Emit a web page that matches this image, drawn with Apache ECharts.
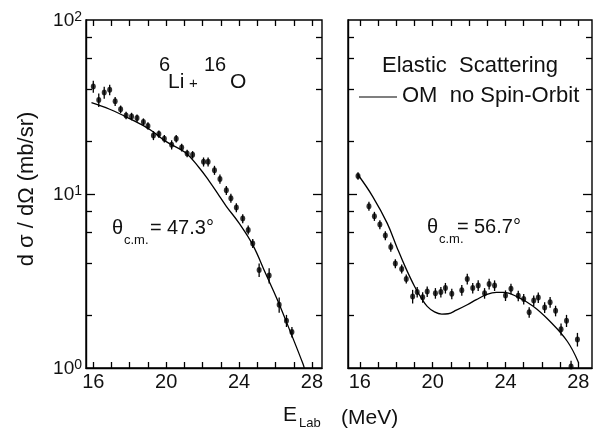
<!DOCTYPE html>
<html>
<head>
<meta charset="utf-8">
<script src="https://cdn.jsdelivr.net/npm/echarts@6/dist/echarts.min.js"></script>
<style>
html,body{margin:0;padding:0;background:#fff;}
#c{width:599px;height:429px;}
</style>
</head>
<body>
<div id="c"></div>
<script>
// ---- data: left panel (theta_cm = 47.3 deg) ----
const leftE   = [16.0,16.3,16.6,16.9,17.2,17.5,17.8,18.1,18.4,18.75,19.0,19.3,19.6,19.9,20.3,20.55,20.85,21.15,21.45,22.05,22.3,22.65,22.95,23.3,23.55,23.85,24.2,24.5,24.75,25.1,25.65,26.2,26.6,26.9];
const leftXS  = [41.5,34.7,38.3,39.7,34.1,30.7,28.3,27.9,27.3,25.9,24.6,21.7,22.1,20.8,19.2,20.8,18.5,17.1,16.8,15.3,15.3,13.7,12.2,10.5,9.46,8.36,7.22,6.22,5.2,3.66,3.4,2.31,1.87,1.61];
const leftErr = [0.08,0.09,0.08,0.07,0.06,0.05,0.05,0.05,0.05,0.05,0.05,0.06,0.05,0.05,0.06,0.05,0.05,0.05,0.05,0.06,0.06,0.06,0.06,0.06,0.06,0.06,0.06,0.06,0.06,0.09,0.1,0.1,0.08,0.07];
const leftCurveE  = [15.9,16.9,18.0,19.1,20.0,21.05,21.8,22.35,22.9,23.3,24.0,24.75,25.45,26.1,26.85,27.5,27.6];
const leftCurveXS = [33.5,30.7,27.1,23.5,20.0,17.3,14.2,11.9,9.8,8.5,6.8,5.1,3.5,2.47,1.58,1.06,0.98];

// ---- data: right panel (theta_cm = 56.7 deg) ----
const rightE   = [15.9,16.5,16.8,17.1,17.4,17.7,17.95,18.3,18.55,18.9,19.15,19.45,19.7,20.15,20.45,20.7,21.05,21.6,21.9,22.2,22.5,22.85,23.1,23.4,24.0,24.3,24.7,25.0,25.3,25.55,25.8,26.15,26.45,26.75,27.05,27.35,27.6,27.95];
const rightXS  = [12.7,8.51,7.45,6.67,5.77,4.96,3.98,3.71,3.25,2.58,2.73,2.55,2.75,2.69,2.73,2.88,2.67,2.80,3.25,2.88,2.98,2.69,3.04,2.98,2.61,2.85,2.6,2.49,2.09,2.44,2.54,2.23,2.39,2.13,1.67,1.87,1.02,1.46];
const rightErr = [0.05,0.06,0.06,0.06,0.06,0.06,0.06,0.06,0.06,0.09,0.07,0.07,0.07,0.07,0.07,0.07,0.07,0.07,0.07,0.07,0.07,0.07,0.07,0.07,0.07,0.07,0.07,0.07,0.07,0.07,0.07,0.07,0.07,0.07,0.08,0.08,0.08,0.09];
const rightCurveE  = [15.9,16.7,17.5,18.05,18.5,19.0,19.35,19.7,20.1,20.5,20.85,21.3,21.9,22.4,22.95,23.5,23.9,24.6,25.5,26.45,27.4,28.0];
const rightCurveXS = [12.9,9.7,6.8,4.9,3.8,2.95,2.55,2.26,2.1,2.04,2.05,2.15,2.31,2.47,2.64,2.72,2.72,2.58,2.27,1.85,1.42,1.08];

// ---- ticks ----
const xTickValues  = [16,17,18,19,20,21,22,23,24,25,26,27,28];
const xLabelValues = [16,20,24,28];
const yTickValues  = [2,4,6,8,10,20,40,60,80];
const yLabelValues = [1,10,100];

const FONT = 'Liberation Sans';
const INK = '#111';

const G = [
  {left:86, top:20, width:236, height:348, xmin:15.6, xmax:28.55},
  {left:348, top:20, width:244, height:348, xmin:15.35, xmax:28.75}
];
const YMIN = 1, YMAX = 100;

const zip2 = (a,b) => a.map((v,i)=>[v,b[i]]);
const zip3 = (a,b,c) => a.map((v,i)=>[v,b[i],c[i]]);

function errItem(params, api){
  const x = api.value(0), y = api.value(1), e = api.value(2);
  const p1 = api.coord([x, y*(1-e)]);
  const p2 = api.coord([x, y*(1+e)]);
  return {type:'line', shape:{x1:p1[0],y1:p1[1],x2:p2[0],y2:p2[1]}, style:{stroke:'#000', lineWidth:1.3}};
}

// inward tick marks on all four sides, as markLine segments in data coordinates
function tickSegs(g){
  const L = 6, Ld = 9;
  const fy = Math.pow(YMAX/YMIN, L/g.height);
  const dx = (g.xmax-g.xmin)*L/g.width, dxd = (g.xmax-g.xmin)*Ld/g.width;
  const segs = [];
  xTickValues.forEach(v=>{
    segs.push([{coord:[v,YMIN]},{coord:[v,YMIN*fy]}]);
    segs.push([{coord:[v,YMAX]},{coord:[v,YMAX/fy]}]);
  });
  yTickValues.forEach(v=>{
    const d = (v===10) ? dxd : dx;
    segs.push([{coord:[g.xmin,v]},{coord:[g.xmin+d,v]}]);
    segs.push([{coord:[g.xmax,v]},{coord:[g.xmax-d,v]}]);
  });
  return segs;
}
function tickMarkLine(g){
  return {silent:true, symbol:['none','none'], label:{show:false},
    lineStyle:{color:'#000', type:'solid', width:1.3}, data:tickSegs(g)};
}

function xAx(gi){
  return {
    type:'value', gridIndex:gi, min:G[gi].xmin, max:G[gi].xmax, position:'bottom',
    axisLine:{show:true, onZero:false, lineStyle:{color:'#000', width:1.4}},
    axisTick:{show:false},
    axisLabel:{show:true, customValues:xLabelValues, margin:4, color:INK, fontFamily:FONT, fontSize:20},
    splitLine:{show:false}
  };
}
function yAx(gi, showLabel){
  return {
    type:'log', logBase:10, gridIndex:gi, min:YMIN, max:YMAX, position:'left',
    axisLine:{show:true, onZero:false, lineStyle:{color:'#000', width:1.4}},
    axisTick:{show:false},
    axisLabel:{show:showLabel, customValues:yLabelValues, margin:4,
      formatter:function(v){ const e = Math.round(Math.log10(v)); return '{b|10}{s|'+e+'}'; },
      rich:{
        b:{fontSize:19, fontFamily:FONT, color:INK, lineHeight:20, verticalAlign:'bottom'},
        s:{fontSize:14, fontFamily:FONT, color:INK, lineHeight:14, padding:[0,0,10,0], verticalAlign:'top'}
      }},
    splitLine:{show:false}
  };
}

const chart = echarts.init(document.getElementById('c'), null, {renderer:'canvas'});

const txt = (t, x, y, size, extra) => Object.assign({
  type:'text', x:x, y:y, silent:true,
  style:{text:t, fontFamily:FONT, fontSize:size, fill:INK, align:'left', verticalAlign:'middle'}
}, extra||{});

chart.setOption({
  animation:false,
  backgroundColor:'#fff',
  grid:G.map(g=>({left:g.left, top:g.top, width:g.width, height:g.height,
                  show:true, borderColor:'#000', borderWidth:1.4, backgroundColor:'transparent'})),
  xAxis:[ xAx(0), xAx(1) ],
  yAxis:[ yAx(0,true), yAx(1,false) ],
  series:[
    {type:'line', xAxisIndex:0, yAxisIndex:0, data:zip2(leftCurveE,leftCurveXS), smooth:0.4, showSymbol:false, clip:true,
     lineStyle:{color:'#000', width:1.3}},
    {type:'custom', xAxisIndex:0, yAxisIndex:0, data:zip3(leftE,leftXS,leftErr), renderItem:errItem, clip:true},
    {type:'scatter', xAxisIndex:0, yAxisIndex:0, data:zip2(leftE,leftXS), symbol:'circle', symbolSize:[5,6],
     itemStyle:{color:'#000'}, markLine:tickMarkLine(G[0])},
    {type:'line', xAxisIndex:1, yAxisIndex:1, data:zip2(rightCurveE,rightCurveXS), smooth:0.4, showSymbol:false, clip:true,
     lineStyle:{color:'#000', width:1.3}},
    {type:'custom', xAxisIndex:1, yAxisIndex:1, data:zip3(rightE,rightXS,rightErr), renderItem:errItem, clip:true},
    {type:'scatter', xAxisIndex:1, yAxisIndex:1, data:zip2(rightE,rightXS), symbol:'circle', symbolSize:[5,6],
     itemStyle:{color:'#000'}, markLine:tickMarkLine(G[1])}
  ],
  graphic:[
    txt('6', 159, 65, 20),
    txt('Li', 168, 82, 21),
    txt('+', 189, 84, 15),
    txt('16', 204, 65, 20),
    txt('O', 230, 82, 21),
    txt('\u03b8', 112, 228, 20),
    txt('c.m.', 124, 240, 13),
    txt('=', 150, 228, 20),
    txt('47.3\u00b0', 167, 228, 20),
    txt('\u03b8', 427, 227, 20),
    txt('c.m.', 439, 239, 13),
    txt('=', 457, 227, 20),
    txt('56.7\u00b0', 474, 227, 20),
    txt('Elastic\u00a0 Scattering', 382, 66, 22),
    {type:'line', silent:true, shape:{x1:359, y1:97, x2:397, y2:97}, style:{stroke:'#000', lineWidth:1.2}},
    txt('OM\u00a0 no Spin-Orbit', 402, 96, 22),
    {type:'text', x:27, y:189, rotation:Math.PI/2, silent:true,
     style:{text:'d \u03c3 / d\u03a9 (mb/sr)', fontFamily:FONT, fontSize:22, fill:INK, align:'center', verticalAlign:'middle'}},
    txt('E', 283, 415, 21),
    txt('Lab', 299, 423, 13),
    txt('(MeV)', 341, 418, 21)
  ]
});
</script>
</body>
</html>
